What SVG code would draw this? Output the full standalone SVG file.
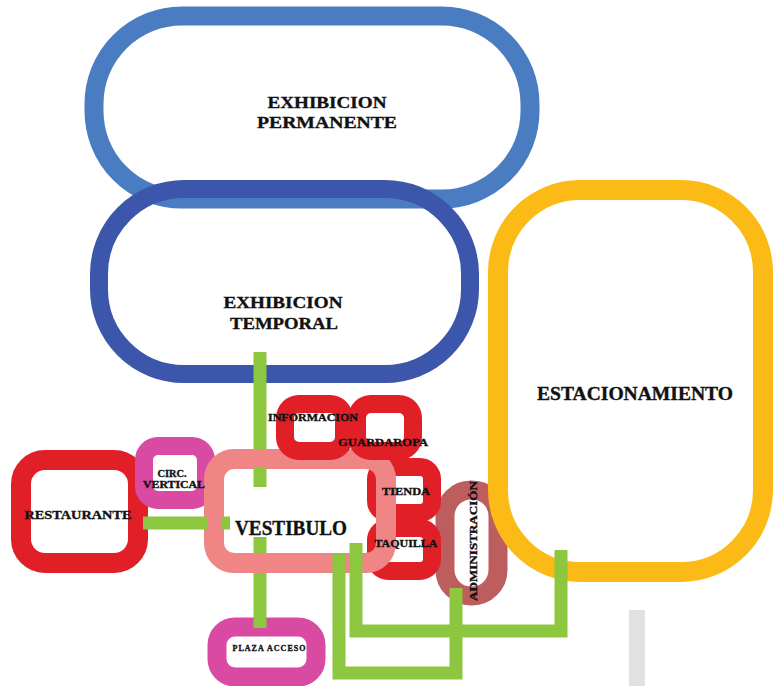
<svg xmlns="http://www.w3.org/2000/svg" width="775" height="686" viewBox="0 0 775 686">
<style>
.ring{fill:none}
.perm{stroke:#4a7cc2;stroke-width:19}
.temp{stroke:#3b56aa;stroke-width:18}
.estac{stroke:#fbba16;stroke-width:20}
.adm{stroke:#bd5d5e;stroke-width:19}
.red{stroke:#e11f27;stroke-width:18}
.mag{stroke:#d94aa3;stroke-width:18}
.vest{stroke:#f08585;stroke-width:20}
.conn{fill:none;stroke:#8dc63f;stroke-width:13;stroke-linecap:butt;stroke-linejoin:miter}
text{font-family:"Liberation Serif","DejaVu Serif",serif;font-weight:bold;fill:#111;stroke:#111;stroke-width:0.35;text-anchor:middle}
</style>
<rect width="775" height="686" fill="#ffffff"/>
<g id="nodes">
<g id="exhibicion-permanente"><rect class="ring perm" x="94" y="16" width="436" height="183" rx="88"/></g>
<g id="exhibicion-temporal"><rect class="ring temp" x="99" y="189" width="371" height="185" rx="85"/></g>
<g id="administracion"><rect class="ring adm" x="445" y="490" width="53" height="106" rx="26"/></g>
<g id="estacionamiento"><rect class="ring estac" x="498" y="190" width="265" height="382" rx="82"/></g>
<g id="restaurante"><rect class="ring red" style="stroke-width:20" x="21" y="460" width="117" height="103" rx="24"/></g>
<g id="circ-vertical"><rect class="ring mag" x="144" y="446" width="62" height="54" rx="14"/></g>
<g id="tienda"><rect class="ring red" x="376" y="467" width="56" height="46" rx="12"/></g>
<g id="taquilla"><rect class="ring red" x="376" y="528" width="56" height="43" rx="12"/></g>
<g id="vestibulo"><rect class="ring vest" x="214" y="459" width="172" height="104" rx="20"/></g>
<g id="informacion"><rect class="ring red" x="285" y="404" width="59" height="47" rx="14"/></g>
<g id="guardaropa"><rect class="ring red" x="357" y="404" width="56" height="47" rx="14"/></g>
<g id="plaza-acceso"><rect class="ring mag" style="stroke-width:19" x="217" y="627" width="99" height="50" rx="18"/></g>
</g>
<g id="connectors">
<path class="conn" d="M260,352 V450 M260,468 V487 M260,537 V553 M260,573 V628"/>
<path class="conn" d="M143,523 H208 M222,523 H230"/>
<path class="conn" d="M339,553 V673 H456 V588"/>
<path class="conn" d="M356,543 V631 H561 V550"/>
</g>
<rect x="629" y="610" width="16" height="76" fill="#e1e1e1"/>
<g id="labels">
<text x="327" y="108" font-size="17" textLength="119" lengthAdjust="spacingAndGlyphs">EXHIBICION</text>
<text x="327" y="128" font-size="17" textLength="140" lengthAdjust="spacingAndGlyphs">PERMANENTE</text>
<text x="283" y="308" font-size="17" textLength="119" lengthAdjust="spacingAndGlyphs">EXHIBICION</text>
<text x="284" y="329" font-size="17" textLength="108" lengthAdjust="spacingAndGlyphs">TEMPORAL</text>
<text x="635" y="400" font-size="18" textLength="196" lengthAdjust="spacingAndGlyphs">ESTACIONAMIENTO</text>
<text x="313" y="421" font-size="10.5" textLength="90" lengthAdjust="spacingAndGlyphs">INFORMACION</text>
<text x="383" y="446" font-size="10.5" textLength="90" lengthAdjust="spacingAndGlyphs">GUARDAROPA</text>
<text x="406" y="495" font-size="10.5" textLength="48" lengthAdjust="spacingAndGlyphs">TIENDA</text>
<text x="406" y="547" font-size="10.5" textLength="63" lengthAdjust="spacingAndGlyphs">TAQUILLA</text>
<text x="291" y="535" font-size="20" textLength="112" lengthAdjust="spacingAndGlyphs">VESTIBULO</text>
<text x="172" y="477" font-size="9.5" textLength="29" lengthAdjust="spacingAndGlyphs">CIRC.</text>
<text x="174" y="488" font-size="9.5" textLength="62" lengthAdjust="spacingAndGlyphs">VERTICAL</text>
<text x="78" y="519" font-size="12" textLength="107" lengthAdjust="spacingAndGlyphs">RESTAURANTE</text>
<text x="269" y="651" font-size="8" textLength="73" lengthAdjust="spacing">PLAZA ACCESO</text>
<text transform="translate(477,541) rotate(-90)" x="0" y="0" font-size="10.5" textLength="120" lengthAdjust="spacingAndGlyphs">ADMINISTRACIÓN</text>
</g>
</svg>
